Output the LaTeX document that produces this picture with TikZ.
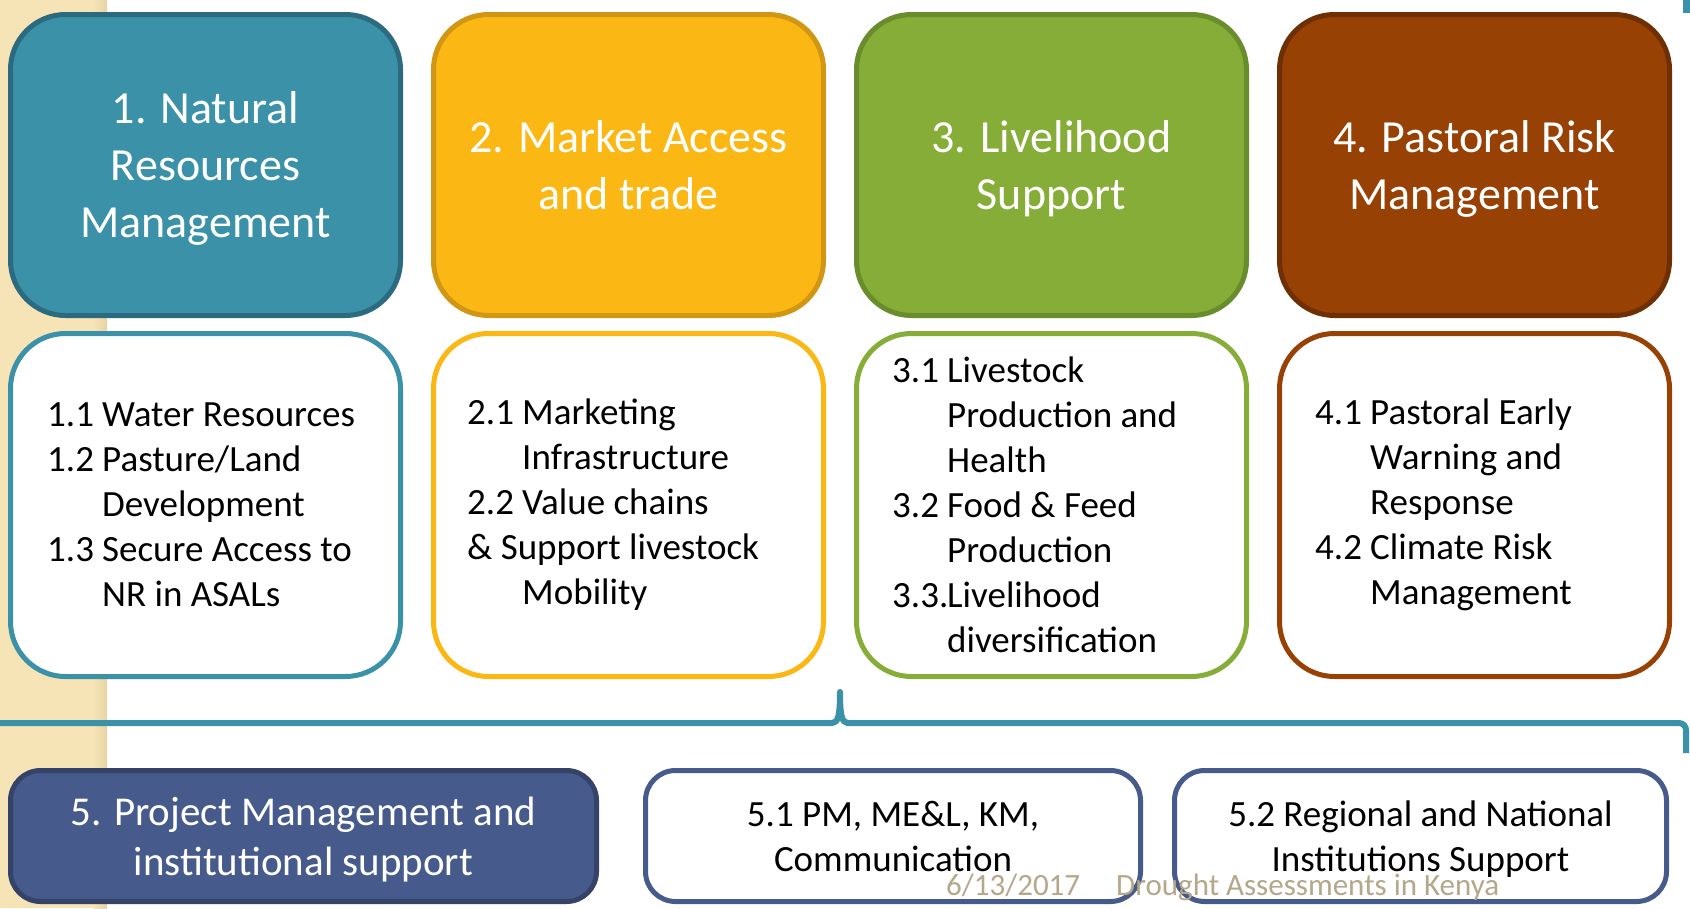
\documentclass[tikz,border=0pt]{standalone}
\usepackage{fontspec}
\setmainfont{Carlito}
\usetikzlibrary{positioning}

\definecolor{stripbeige}{HTML}{F6E4B6}
\definecolor{stripedge}{HTML}{E6D3A4}
\definecolor{nrmteal}{HTML}{3A91A8}
\definecolor{nrmdark}{HTML}{2C6A80}
\definecolor{mktgold}{HTML}{FBB713}
\definecolor{mktdark}{HTML}{D09614}
\definecolor{livgreen}{HTML}{85AD37}
\definecolor{livdark}{HTML}{698C2D}
\definecolor{riskbrown}{HTML}{984104}
\definecolor{riskdark}{HTML}{6E2F03}
\definecolor{pmblue}{HTML}{465A8C}
\definecolor{pmdark}{HTML}{354369}
\definecolor{foottan}{HTML}{B5A78A}

\newlength{\numwd}\setlength{\numwd}{55pt}
\newcommand{\itemno}[1]{\makebox[\numwd][l]{#1}}
\newcommand{\itemcont}{\hspace*{\numwd}}

\tikzset{
  headbox/.style={draw, line width=5pt, rounded corners=55pt,
    minimum width=390pt, minimum height=301pt, text=white, align=center,
    text depth=0pt, font=\fontsize{46}{57}\selectfont},
  itembox/.style={draw, line width=5pt, rounded corners=55pt, fill=white,
    minimum width=390pt, minimum height=343pt},
  itemtext/.style={inner sep=0pt, align=left, font=\fontsize{37}{45}\selectfont},
  basebox/.style={draw, line width=5pt, rounded corners=30pt,
    minimum height=131pt, align=center, text depth=0pt},
  braceline/.style={draw=nrmteal, line width=6pt, line join=round, line cap=round},
  footer/.style={inner sep=0pt, text=foottan, font=\fontsize{31}{36}\selectfont}
}

\begin{document}
\begin{tikzpicture}[x=1pt, y=-1pt]
  \useasboundingbox (0,0) rectangle (1690,908);
  % slide background
  \fill[stripbeige] (0,0) rectangle (107,908);
  \shade[left color=stripbeige, right color=stripedge] (93,0) rectangle (107,908);
  \fill[nrmteal] (1683,0) rectangle (1690,13);

  % components
  \node[headbox, fill=nrmteal, draw=nrmdark] (h1) at (205.5,165) {1. Natural\\Resources\\Management};
  \node[headbox, fill=mktgold, draw=mktdark] (h2) at (628.5,165) {2. Market Access\\and trade};
  \node[headbox, fill=livgreen, draw=livdark] (h3) at (1051.5,165) {3. Livelihood\\Support};
  \node[headbox, fill=riskbrown, draw=riskdark] (h4) at (1474.5,165) {4. Pastoral Risk\\Management};

  % sub-components
  \node[itembox, draw=nrmteal] (b1) at (205.5,505) {};
  \node[itembox, draw=mktgold] (b2) at (628.5,505) {};
  \node[itembox, draw=livgreen] (b3) at (1051.5,505) {};
  \node[itembox, draw=riskbrown] (b4) at (1474.5,505) {};

  \node[itemtext, right=39pt of b1.west] (t1) {\itemno{1.1}Water Resources\\\itemno{1.2}Pasture/Land\\\itemcont Development\\\itemno{1.3}Secure Access to\\\itemcont NR in ASALs};
  \node[itemtext, right=36pt of b2.west] (t2) {\itemno{2.1}Marketing\\\itemcont Infrastructure\\\itemno{2.2}Value chains\\\& Support livestock\\\itemcont Mobility};
  \node[itemtext, right=38pt of b3.west] (t3) {\itemno{3.1}Livestock\\\itemcont Production and\\\itemcont Health\\\itemno{3.2}Food \& Feed\\\itemcont Production\\\itemno{3.3.}Livelihood\\\itemcont diversification};
  \node[itemtext, right=38pt of b4.west] (t4) {\itemno{4.1}Pastoral Early\\\itemcont Warning and\\\itemcont Response\\\itemno{4.2}Climate Risk\\\itemcont Management};

  % brace
  \coordinate (brl) at (0,723);
  \coordinate (brtip) at (840,692);
  \coordinate (brr) at (1686,753);
  \draw[braceline] (brl) -- (832,723) .. controls (838,723) and (840,716) .. (brtip)
    .. controls (840,716) and (842,723) .. (848,723);
  \draw[braceline, line cap=butt, rounded corners=7pt] (846,723) -- (1686,723) -- (brr);

  % project management
  \node[basebox, fill=pmblue, draw=pmdark, text=white, minimum width=586pt,
    font=\fontsize{41}{50}\selectfont] (h5) at (303.5,836) {5. Project Management and\\institutional support};
  \node[basebox, fill=white, draw=pmblue, minimum width=495pt,
    font=\fontsize{37}{45}\selectfont] (b51) at (893,836) {5.1 PM, ME\&L, KM,\\Communication};
  \node[basebox, fill=white, draw=pmblue, minimum width=492pt,
    font=\fontsize{37}{45}\selectfont] (b52) at (1420.5,836) {5.2 Regional and National\\Institutions Support};

  % footer
  \node[footer, anchor=base west] (date) at (946,895) {6/13/2017};
  \node[footer, anchor=base west] (title) at (1116,895) {Drought Assessments in Kenya};
\end{tikzpicture}
\end{document}
